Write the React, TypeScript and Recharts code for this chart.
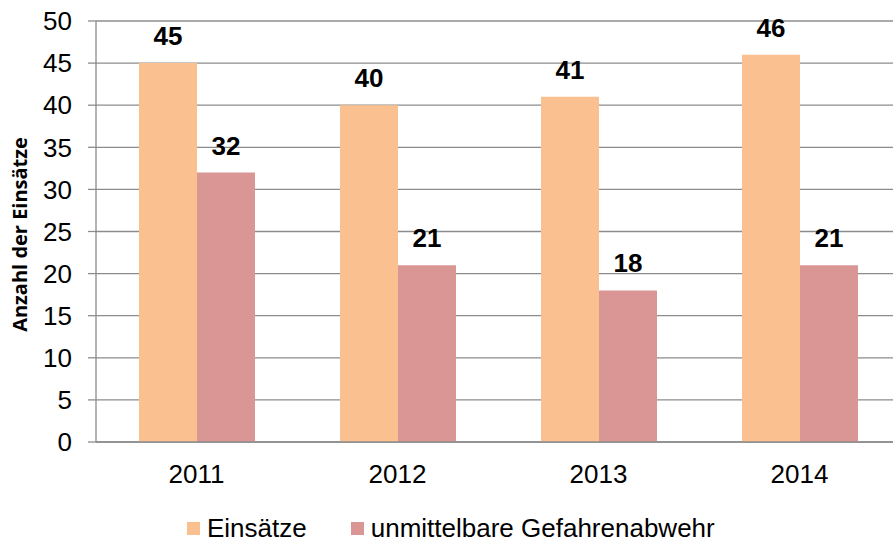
import { BarChart, Bar, XAxis, YAxis, CartesianGrid, LabelList } from "recharts";

const YEARS = ["2011", "2012", "2013", "2014"];
const EINSAETZE = [45, 40, 41, 46];
const GEFAHRENABWEHR = [32, 21, 18, 21];
const SERIES_NAMES = ["Einsätze", "unmittelbare Gefahrenabwehr"];
const Y_TICKS = [0, 5, 10, 15, 20, 25, 30, 35, 40, 45, 50];
const EDGE_TICKS = [0, 1, 2, 3, 4];

const ORANGE = "#FAC090";
const ROSE = "#D99694";
const GRID = "#8c8c8c";
const FONT = "'Liberation Sans', Arial, sans-serif";

const data = YEARS.map((year, i) => ({
  year,
  einsaetze: EINSAETZE[i],
  abwehr: GEFAHRENABWEHR[i],
}));

const YLabel = (props: any) => {
  const vb = props.viewBox || { x: 0, y: 0, height: 0 };
  const x = vb.x + 27;
  const y = vb.y + vb.height / 2 + 3;
  return (
    <text
      x={x}
      y={y}
      transform={`rotate(-90 ${x} ${y})`}
      textAnchor="middle"
      fontFamily="'Open Sans', sans-serif"
      fontWeight={700}
      fontSize={20}
      fill="#000"
    >
      Anzahl der Einsätze
    </text>
  );
};

const labelStyle = { fontSize: 26, fontWeight: 700, fill: "#000", fontFamily: FONT };
const tickStyle = { fontSize: 26, fill: "#000", fontFamily: FONT };

export default function App() {
  const colors = [ORANGE, ROSE];
  return (
    <div
      style={{
        position: "absolute",
        left: 0,
        top: 0,
        width: 893,
        height: 544,
        overflow: "hidden",
        background: "#fff",
        fontFamily: FONT,
      }}
    >
      <BarChart
        width={900}
        height={544}
        data={data}
        margin={{ top: 21, right: 0, bottom: 72, left: 0 }}
        barCategoryGap={43}
        barGap={0}
      >
        <CartesianGrid vertical={false} stroke={GRID} strokeWidth={1.3} />
        <XAxis
          xAxisId="edges"
          type="number"
          domain={[0, 4]}
          ticks={EDGE_TICKS}
          tick={false}
          tickSize={8}
          tickLine={{ stroke: GRID, strokeWidth: 1.3 }}
          axisLine={false}
          height={0}
        />
        <XAxis
          dataKey="year"
          tickLine={false}
          tickSize={0}
          tickMargin={23}
          height={30}
          axisLine={{ stroke: GRID, strokeWidth: 1.3 }}
          tick={tickStyle}
        />
        <YAxis
          domain={[0, 50]}
          ticks={Y_TICKS}
          width={96}
          tickSize={8}
          tickMargin={16}
          axisLine={{ stroke: GRID, strokeWidth: 1.3 }}
          tickLine={{ stroke: GRID, strokeWidth: 1.3 }}
          tick={tickStyle}
          label={<YLabel />}
        />
        <Bar dataKey="einsaetze" name={SERIES_NAMES[0]} fill={ORANGE} isAnimationActive={false}>
          <LabelList dataKey="einsaetze" position="top" offset={18} style={labelStyle} />
        </Bar>
        <Bar dataKey="abwehr" name={SERIES_NAMES[1]} fill={ROSE} isAnimationActive={false}>
          <LabelList dataKey="abwehr" position="top" offset={18} style={labelStyle} />
        </Bar>
      </BarChart>
      <div
        style={{
          position: "absolute",
          left: 187,
          top: 513,
          display: "flex",
          alignItems: "center",
          fontSize: 26,
          color: "#000",
          lineHeight: "30px",
        }}
      >
        {SERIES_NAMES.map((name, i) => (
          <div key={name} style={{ display: "flex", alignItems: "center", marginRight: 44 }}>
            <span style={{ width: 13, height: 13, background: colors[i], marginRight: 7, display: "inline-block" }} />
            <span>{name}</span>
          </div>
        ))}
      </div>
    </div>
  );
}
